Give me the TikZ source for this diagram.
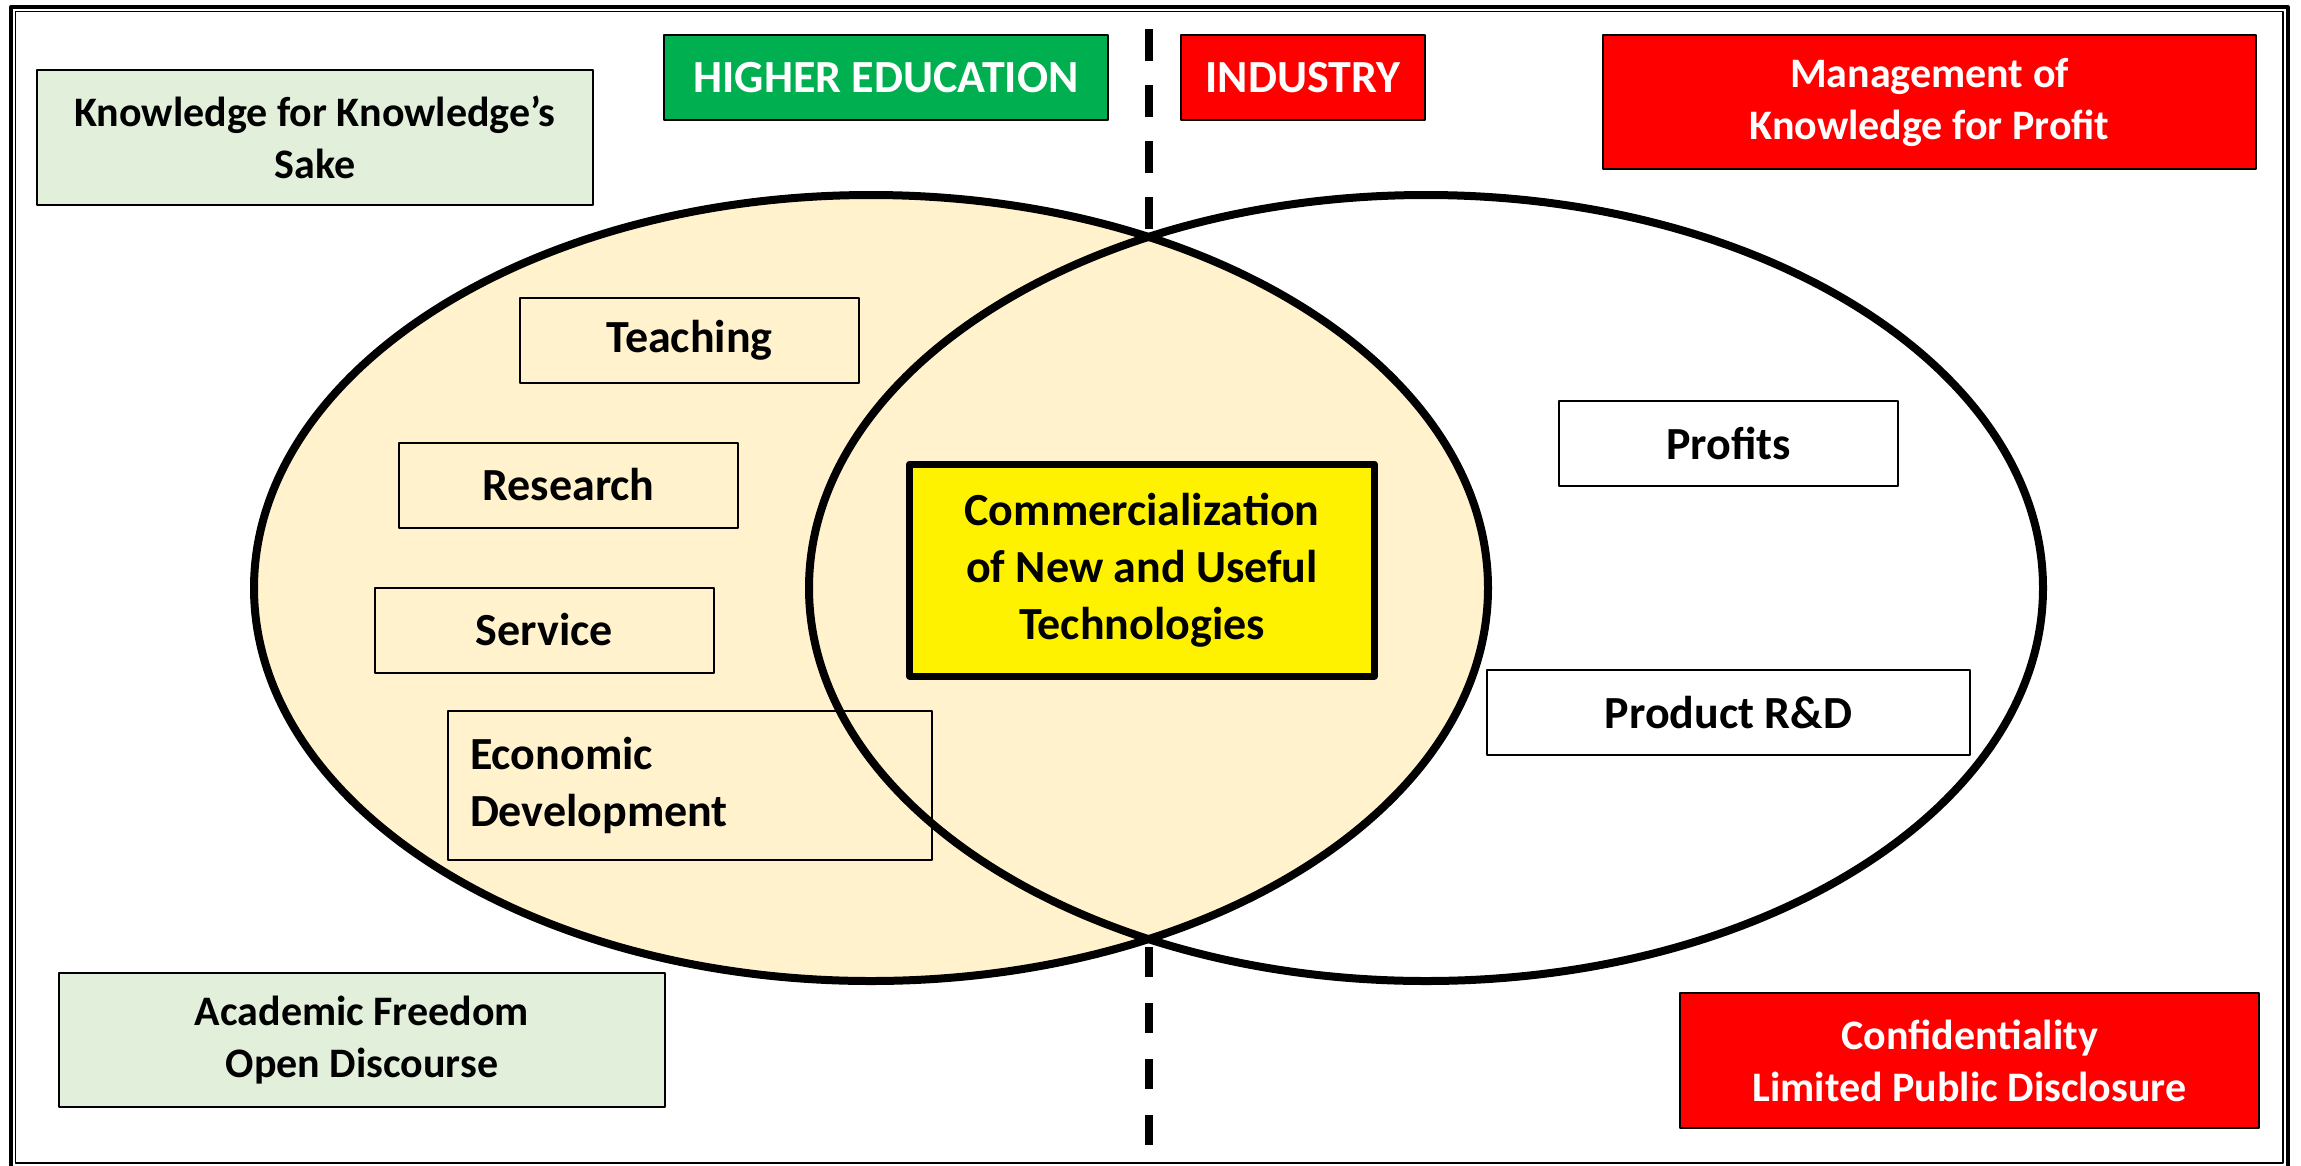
\documentclass[tikz,border=0pt]{standalone}
\usepackage{fontspec}
\setmainfont{Carlito}
\definecolor{paleGreen}{HTML}{E2EFDA}
\definecolor{eduGreen}{HTML}{00B050}
\definecolor{beige}{HTML}{FFF2CC}
\begin{document}
\begin{tikzpicture}[x=1pt, y=-1pt, line join=round,
	hop/.style={draw, line width=2pt, inner sep=0pt, align=center},
	txtbig/.style={font=\fontsize{46}{57}\selectfont\bfseries},
	txtsmall/.style={font=\fontsize{42}{52}\selectfont\bfseries}]
	\def\rx{617pt} % half width of a circle
	\def\ry{393pt} % half height
	\fill[white] (0,0) rectangle (2301,1165);
	\useasboundingbox (0,0) rectangle (2301,1165);
	% frame
	\draw[line width=4pt] (11,7) rectangle (2287.5,1169);
	\draw[line width=1.3pt] (15.5,11.5) rectangle (2283,1163);
	% divider
	\coordinate (D1) at (1149,29);
	\coordinate (D2) at (1149,237);
	\coordinate (D3) at (1149,947);
	\coordinate (D4) at (1149,1145);
	\draw[line width=8pt, dash pattern=on 32pt off 24pt] (D1)--(D2);
	\draw[line width=8pt, dash pattern=on 30pt off 26pt] (D3)--(D4);
	% circles
	\coordinate (O1) at (871,588);
	\coordinate (O2) at (1426,588);
	\fill[beige] (O1) ellipse ({\rx} and {\ry});
	\foreach \tam in {O1,O2} \draw[line width=8pt] (\tam) ellipse ({\rx} and {\ry});
	% corner boxes
	\node[hop, txtsmall, fill=paleGreen, minimum width=556pt, minimum height=135pt] (sake) at (315,137.5) {Knowledge for Knowledge’s\\Sake};
	\node[hop, txtbig, fill=eduGreen, text=white, minimum width=444pt, minimum height=85pt] (edu) at (886,77.5) {HIGHER EDUCATION};
	\node[hop, txtbig, fill=red, text=white, minimum width=244pt, minimum height=85pt] (ind) at (1303,77.5) {INDUSTRY};
	\node[hop, txtsmall, fill=red, text=white, minimum width=653pt, minimum height=134pt] (profit) at (1929.5,102) {Management of\\Knowledge for Profit};
	\node[hop, txtsmall, fill=paleGreen, minimum width=606pt, minimum height=134pt] (freedom) at (362,1040) {Academic Freedom\\Open Discourse};
	\node[hop, txtsmall, fill=red, text=white, minimum width=579pt, minimum height=135pt] (secret) at (1969.5,1060.5) {Confidentiality\\Limited Public Disclosure};
	% inner boxes
	\foreach \ten/\x/\y/\w/\chu in {teach/689.5/340.5/339/Teaching, research/568.5/485/339/Research, service/544.5/630/339/Service, profits/1728.5/443.5/339/Profits, rd/1728.5/712.5/483/Product R\&D}
		\node[hop, txtbig, minimum width=\w pt, minimum height=85pt] (\ten) at (\x,\y) {\chu};
	\node[hop, txtbig, align=left, text width=440pt, inner xsep=22pt, minimum height=149pt] (econ) at (690,785.5) {Economic\\Development};
	\node[hop, txtbig, line width=7pt, fill=yellow, minimum width=465pt, minimum height=212pt] (comm) at (1142,570) {Commercialization\\of New and Useful\\Technologies};
\end{tikzpicture}
\end{document}
